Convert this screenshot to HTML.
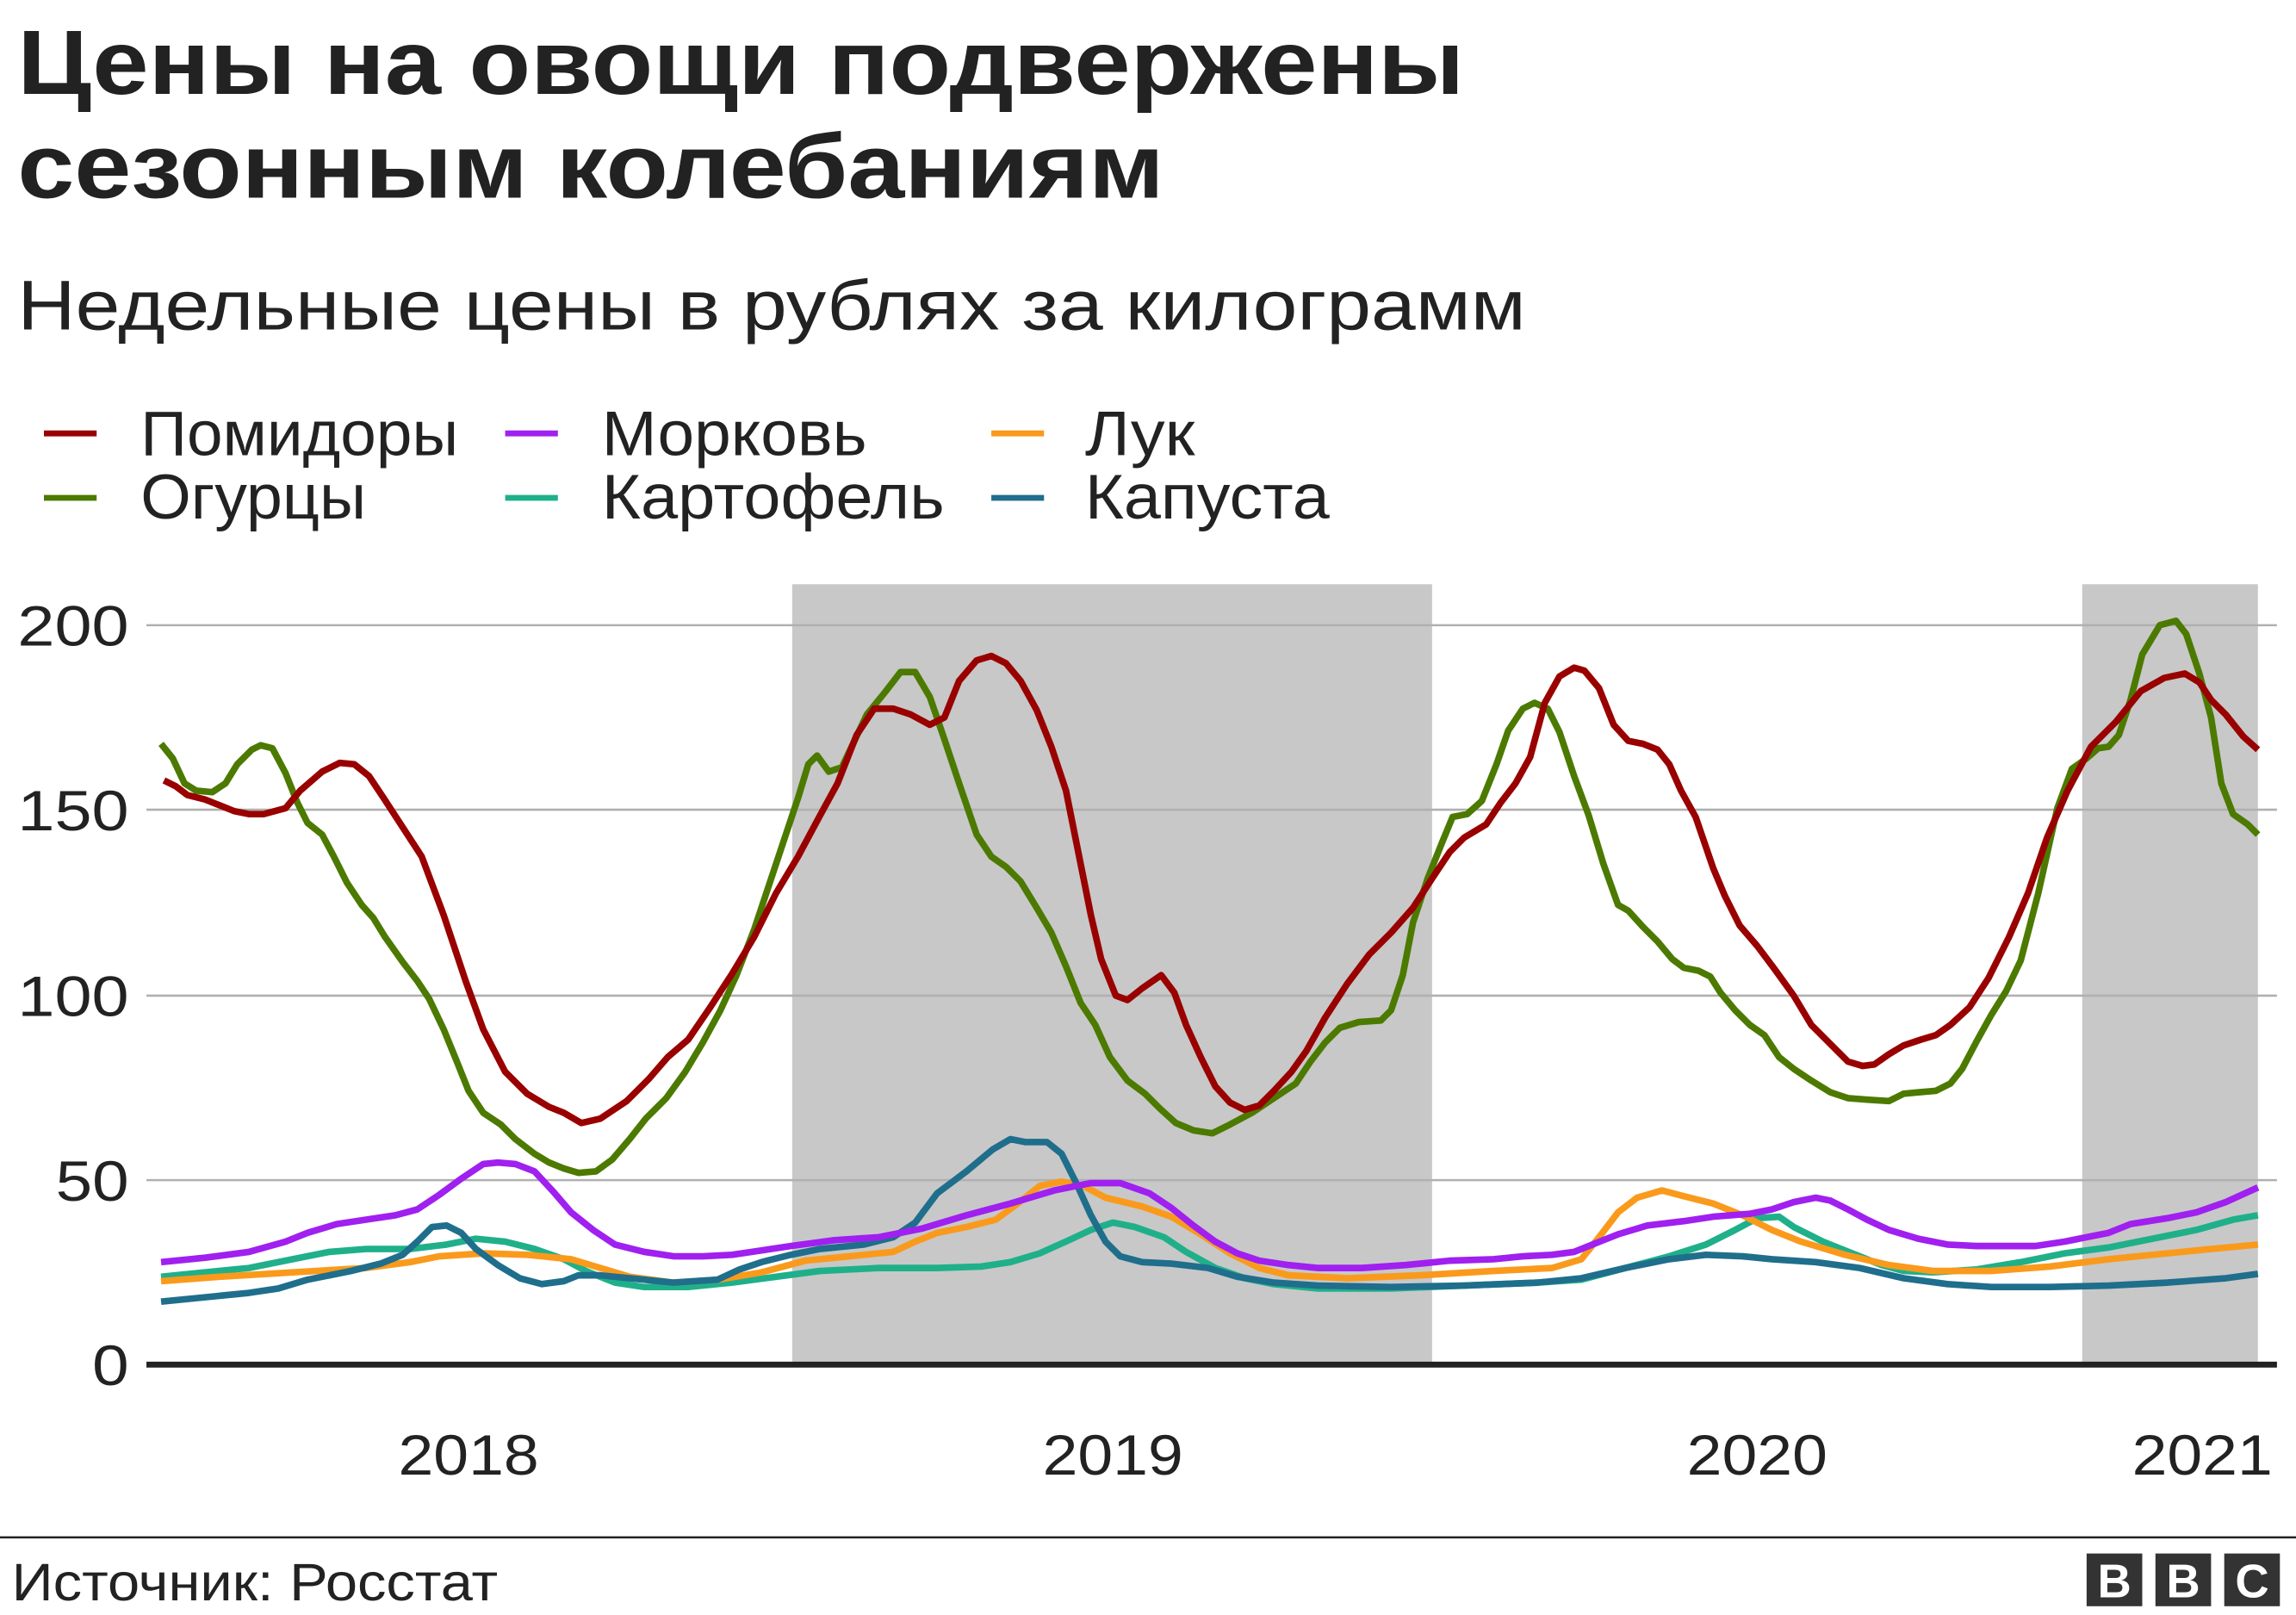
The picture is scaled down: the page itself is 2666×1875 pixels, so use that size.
<!DOCTYPE html>
<html><head><meta charset="utf-8"><style>html,body{margin:0;padding:0;background:#fff}svg{display:block}text{font-family:"Liberation Sans",sans-serif;fill:#222}</style></head><body>
<svg width="2666" height="1875" viewBox="0 0 1568 1103" preserveAspectRatio="none" xmlns="http://www.w3.org/2000/svg">
<text x="12" y="64" font-size="62" font-weight="bold" textLength="988" lengthAdjust="spacingAndGlyphs">Цены на овощи подвержены</text>
<text x="12" y="135" font-size="62" font-weight="bold" textLength="783" lengthAdjust="spacingAndGlyphs">сезонным колебаниям</text>
<text x="12" y="225" font-size="48" textLength="1030" lengthAdjust="spacingAndGlyphs">Недельные цены в рублях за килограмм</text>
<g font-size="43">
<line x1="30" y1="296" x2="66" y2="296" stroke="#990000" stroke-width="4"/><text x="96" y="311" textLength="217" lengthAdjust="spacingAndGlyphs">Помидоры</text>
<line x1="30" y1="340" x2="66" y2="340" stroke="#4c7a00" stroke-width="4"/><text x="96" y="354" textLength="154" lengthAdjust="spacingAndGlyphs">Огурцы</text>
<line x1="345" y1="296" x2="381" y2="296" stroke="#a020f0" stroke-width="4"/><text x="411" y="311" textLength="181" lengthAdjust="spacingAndGlyphs">Морковь</text>
<line x1="345" y1="340" x2="381" y2="340" stroke="#1fb08a" stroke-width="4"/><text x="411" y="354" textLength="234" lengthAdjust="spacingAndGlyphs">Картофель</text>
<line x1="677" y1="296" x2="713" y2="296" stroke="#fa9a1c" stroke-width="4"/><text x="741" y="311" textLength="75" lengthAdjust="spacingAndGlyphs">Лук</text>
<line x1="677" y1="340" x2="713" y2="340" stroke="#1f6e8c" stroke-width="4"/><text x="741" y="354" textLength="167" lengthAdjust="spacingAndGlyphs">Капуста</text>
</g>
<rect x="541" y="399" width="437" height="533" fill="#c8c8c8"/>
<rect x="1422" y="399" width="120" height="533" fill="#c8c8c8"/>
<g stroke="#b0b0b0" stroke-width="1.5">
<line x1="100" y1="427" x2="1555" y2="427"/><line x1="100" y1="553" x2="1555" y2="553"/><line x1="100" y1="680" x2="1555" y2="680"/><line x1="100" y1="806" x2="1555" y2="806"/></g>
<g font-size="39"><text x="12" y="441" textLength="76" lengthAdjust="spacingAndGlyphs">200</text><text x="12" y="567" textLength="76" lengthAdjust="spacingAndGlyphs">150</text><text x="12" y="694" textLength="76" lengthAdjust="spacingAndGlyphs">100</text><text x="38" y="820" textLength="50" lengthAdjust="spacingAndGlyphs">50</text><text x="63" y="946" textLength="25" lengthAdjust="spacingAndGlyphs">0</text></g>
<g font-size="39"><text x="272" y="1007" textLength="96" lengthAdjust="spacingAndGlyphs">2018</text><text x="712" y="1007" textLength="96" lengthAdjust="spacingAndGlyphs">2019</text><text x="1152" y="1007" textLength="96" lengthAdjust="spacingAndGlyphs">2020</text><text x="1456" y="1007" textLength="96" lengthAdjust="spacingAndGlyphs">2021</text></g>
<g fill="none" stroke-width="4.5" stroke-linejoin="round">
<polyline stroke="#1fb08a" points="110,872 140,869 170,866 200,860 225,855 250,853 280,853 305,850 325,846 345,848 365,853 385,860 400,868 420,876 440,879 470,879 500,876 530,872 560,868 600,866 640,866 670,865 690,862 710,856 730,847 745,840 760,835 775,838 795,845 810,855 830,866 850,873 870,877 900,880 950,880 1000,878 1050,876 1080,874 1110,866 1140,858 1165,850 1185,840 1200,832 1215,831 1225,838 1245,848 1265,856 1285,864 1300,868 1320,869 1350,867 1380,862 1410,856 1440,852 1470,846 1500,840 1525,833 1542,830"/>
<polyline stroke="#fa9a1c" points="110,875 150,872 200,869 250,866 280,862 300,858 330,856 360,857 390,860 410,866 430,872 460,876 490,874 520,869 550,861 580,858 610,855 625,848 640,842 660,838 680,833 695,822 710,810 725,807 740,810 755,818 780,824 800,831 820,843 840,856 860,866 880,871 920,873 970,871 1020,868 1060,866 1080,860 1092,845 1105,828 1118,818 1135,813 1150,817 1170,822 1190,830 1210,840 1230,848 1260,857 1290,864 1320,868 1360,868 1400,865 1440,860 1480,856 1510,853 1542,850"/>
<polyline stroke="#1f6e8c" points="110,889 140,886 170,883 190,880 210,874 240,868 260,863 275,857 285,848 295,838 305,837 315,842 325,853 340,864 355,873 370,877 385,875 395,871 410,871 430,873 460,876 490,874 505,867 520,862 540,857 560,853 590,850 610,845 625,835 640,815 660,800 678,785 690,778 700,780 715,780 725,788 735,808 745,830 755,848 765,858 780,862 800,863 825,866 845,872 870,876 900,878 950,879 1000,878 1050,876 1080,873 1110,866 1140,860 1165,857 1190,858 1210,860 1240,862 1270,866 1300,873 1330,877 1360,879 1400,879 1440,878 1480,876 1520,873 1542,870"/>
<polyline stroke="#a020f0" points="110,862 140,859 170,855 195,848 210,842 230,836 250,833 270,830 285,826 300,816 315,805 330,795 340,794 352,795 365,800 378,814 390,828 405,840 420,850 440,855 460,858 480,858 500,857 520,854 540,851 570,847 600,845 630,839 660,830 690,822 720,813 745,808 765,808 785,815 800,825 815,837 830,848 845,856 860,861 880,864 900,866 930,866 960,864 990,861 1020,860 1040,858 1060,857 1075,855 1090,849 1105,843 1125,837 1150,834 1170,831 1195,829 1210,826 1225,821 1240,818 1250,820 1262,826 1275,833 1290,840 1310,846 1330,850 1350,851 1390,851 1410,848 1425,845 1440,842 1455,836 1480,832 1500,828 1520,821 1542,811"/>
<polyline stroke="#4c7a00" points="110,508 118,518 126,535 134,540 145,541 154,535 162,522 172,512 178,509 186,511 195,528 203,548 210,562 220,570 228,585 237,603 247,618 255,627 263,640 275,657 285,670 293,682 303,703 312,725 320,745 330,760 342,768 352,778 365,788 375,794 385,798 395,801 407,800 418,792 430,778 441,764 455,750 468,732 480,712 492,690 503,666 515,635 525,605 535,575 545,545 552,522 558,516 566,527 575,524 583,507 592,488 605,472 615,459 625,459 635,476 645,505 655,535 667,570 677,585 687,592 697,602 708,620 718,637 728,660 738,685 748,700 758,722 770,738 782,747 792,757 803,767 815,772 828,774 840,768 855,760 870,750 885,740 895,725 905,712 915,702 928,698 943,697 950,690 958,666 965,630 975,600 985,575 992,558 1002,556 1012,547 1022,522 1030,499 1040,484 1048,480 1057,484 1065,500 1075,530 1085,557 1095,590 1105,618 1112,622 1122,633 1132,643 1142,655 1150,661 1160,663 1168,667 1175,678 1185,690 1195,700 1205,707 1215,722 1225,730 1237,738 1250,746 1262,750 1275,751 1290,752 1300,747 1310,746 1322,745 1332,740 1340,730 1350,711 1360,693 1370,677 1380,656 1392,610 1405,552 1415,525 1425,518 1433,511 1440,510 1447,502 1455,478 1463,447 1475,427 1486,424 1493,433 1502,460 1510,490 1517,535 1525,556 1535,563 1542,570"/>
<polyline stroke="#990000" points="112,533 120,537 128,543 140,546 150,550 160,554 170,556 180,556 195,552 205,540 220,527 232,521 242,522 252,530 262,545 275,565 288,585 303,625 318,670 330,703 345,732 360,747 375,756 385,760 397,767 410,764 428,752 443,737 456,722 470,710 485,688 500,665 515,640 530,610 545,585 560,557 572,535 585,502 597,484 610,484 622,488 635,495 645,490 655,465 667,451 677,448 687,453 697,465 708,485 718,510 728,540 738,590 745,625 752,655 762,680 770,683 780,675 793,666 802,678 810,700 820,722 830,742 840,753 850,758 860,755 870,745 882,732 892,718 905,695 920,672 935,652 950,637 965,620 978,600 990,582 1000,572 1015,563 1025,548 1035,535 1045,517 1055,480 1065,462 1075,456 1082,458 1092,470 1102,495 1112,506 1122,508 1132,512 1140,522 1148,540 1158,558 1170,593 1178,612 1188,632 1200,646 1212,662 1225,680 1237,700 1250,713 1262,725 1272,728 1280,727 1290,720 1300,714 1312,710 1322,707 1332,700 1345,688 1358,668 1372,640 1385,610 1398,572 1412,540 1428,510 1445,493 1462,472 1478,463 1492,460 1502,466 1510,478 1520,488 1532,503 1542,512"/>
</g>
<line x1="100" y1="932" x2="1555" y2="932" stroke="#222" stroke-width="4"/>
<line x1="0" y1="1050" x2="1568" y2="1050" stroke="#222" stroke-width="1.5"/>
<text x="8" y="1093" font-size="36" textLength="332" lengthAdjust="spacingAndGlyphs">Источник: Росстат</text>
<g><rect x="1425" y="1061" width="38" height="36" fill="#333"/><rect x="1472" y="1061" width="38" height="36" fill="#333"/><rect x="1519" y="1061" width="38" height="36" fill="#333"/>
<g font-size="32" font-weight="bold" text-anchor="middle"><text x="1444" y="1091" style="fill:#fff">B</text><text x="1491" y="1091" style="fill:#fff">B</text><text x="1538" y="1091" style="fill:#fff">C</text></g></g>
</svg>
</body></html>
